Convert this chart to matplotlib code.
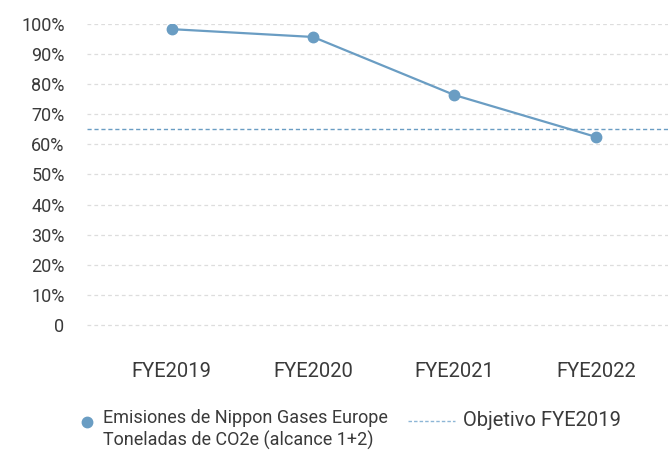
import matplotlib
matplotlib.use("Agg")
import matplotlib.pyplot as plt
from matplotlib.lines import Line2D

plt.rcParams['font.family'] = ['Roboto', 'DejaVu Sans']

years = ['FYE2019', 'FYE2020', 'FYE2021', 'FYE2022']
emissions = [98.3, 95.7, 76.4, 62.5]   # % of FYE2019 emissions
target = 65
yticks = [0, 10, 20, 30, 40, 50, 60, 70, 80, 90, 100]
ylabels = ['0'] + ['%d%%' % v for v in yticks[1:]]
series_label = 'Emisiones de Nippon Gases Europe\nToneladas de CO2e (alcance 1+2)'
target_label = 'Objetivo FYE2019'

blue = '#6a9dc3'
txt = '#3a3a3a'
W, H = 668, 450

fig = plt.figure(figsize=(W / 100, H / 100), dpi=100)
ax = fig.add_axes([0.130, 0.211, 0.870, 0.7356])

x = list(range(len(years)))
ax.plot(x, emissions, color=blue, lw=1.6, marker='o', ms=7.5)
ax.axhline(target, color=blue, lw=1, ls=(0, (3, 2)))

ax.set_xlim(-0.6, 3.51)
ax.set_ylim(-10, 100)
ax.set_yticks(yticks)
ax.set_yticklabels(ylabels)
ax.set_xticks(x)
ax.set_xticklabels(years)
ax.tick_params(length=0, labelcolor=txt)
ax.tick_params(axis='y', pad=16, labelsize=13)
ax.tick_params(axis='x', pad=5, labelsize=14.5)
ax.grid(axis='y', color='#dddddd', ls=(0, (3, 2.5)), lw=0.9)
ax.set_axisbelow(True)
for s in ax.spines.values():
    s.set_visible(False)

# legend laid out by hand so the handles sit on the first text line
def fx(px):
    return px / W

def fy(py):
    return 1 - py / H

fig.add_artist(Line2D([fx(87)], [fy(422)], transform=fig.transFigure,
                      marker='o', ms=7.5, color=blue, lw=0))
fig.text(fx(103), fy(409), series_label, fontsize=13, color=txt,
         va='top', ha='left', linespacing=1.25)
fig.add_artist(Line2D([fx(408), fx(455)], [fy(421), fy(421)],
                      transform=fig.transFigure, color='#8db6d6', lw=1,
                      ls=(0, (2.5, 1.5))))
fig.text(fx(463), fy(421), target_label, fontsize=14.5, color=txt,
         va='center', ha='left')

fig.savefig('out.png', dpi=100)
